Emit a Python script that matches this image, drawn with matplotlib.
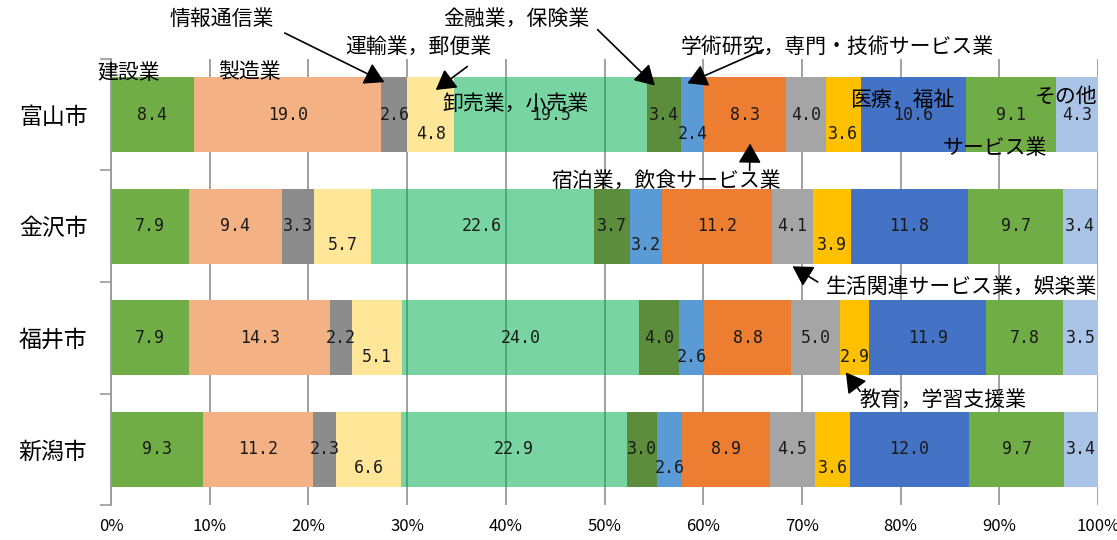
import numpy as np
import matplotlib
matplotlib.use("Agg")
import matplotlib.pyplot as plt

plt.rcParams["font.family"] = ["Noto Sans CJK JP", "DejaVu Sans"]

# 産業別 従業者構成比（％）
cities = ["富山市", "金沢市", "福井市", "新潟市"]
industries = [
    "建設業", "製造業", "情報通信業", "運輸業，郵便業", "卸売業，小売業",
    "金融業，保険業", "学術研究，専門・技術サービス業", "宿泊業，飲食サービス業",
    "生活関連サービス業，娯楽業", "教育，学習支援業", "医療，福祉", "サービス業", "その他",
]
toyama = [8.4, 19.0, 2.6, 4.8, 19.5, 3.4, 2.4, 8.3, 4.0, 3.6, 10.6, 9.1, 4.3]
kanazawa = [7.9, 9.4, 3.3, 5.7, 22.6, 3.7, 3.2, 11.2, 4.1, 3.9, 11.8, 9.7, 3.4]
fukui = [7.9, 14.3, 2.2, 5.1, 24.0, 4.0, 2.6, 8.8, 5.0, 2.9, 11.9, 7.8, 3.5]
niigata = [9.3, 11.2, 2.3, 6.6, 22.9, 3.0, 2.6, 8.9, 4.5, 3.6, 12.0, 9.7, 3.4]
x_ticks = [0, 10, 20, 30, 40, 50, 60, 70, 80, 90, 100]

colors = ["#70AD47", "#F4B183", "#8C8C8C", "#FFE699", "#00B050", "#5B8D3C",
          "#5B9BD5", "#ED7D31", "#A5A5A5", "#FFC000", "#4472C4", "#70AD47", "#AAC4E8"]
alphas = [1, 1, 1, 1, 0.53, 1, 1, 1, 1, 1, 1, 1, 1]
# value labels of these series sit a little below the bar centre
low_label = {3, 6, 9}

data = np.array([toyama, kanazawa, fukui, niigata])
left = np.zeros(len(cities))
ypos = np.arange(len(cities))

fig = plt.figure(figsize=(11.17, 5.40), dpi=100)
ax = fig.add_axes([0.0994, 0.0643, 0.8836, 0.827])

for j, name in enumerate(industries):
    vals = data[:, j]
    ax.barh(ypos, vals, left=left, height=0.67, color=colors[j], alpha=alphas[j],
            zorder=2, label=name)
    for i, v in enumerate(vals):
        dy = 0.17 if j in low_label else 0.0
        ax.text(left[i] + v / 2, ypos[i] + dy, f"{v:.1f}", ha="center", va="center",
                fontsize=12, family="DejaVu Sans Mono", color="#1a1a1a", zorder=4)
    left += vals

ax.set_xlim(0, 100)
ax.set_ylim(3.5, -0.5)
ax.set_xticks(x_ticks)
ax.set_xticklabels([f"{t}%" for t in x_ticks], fontsize=12)
ax.tick_params(axis="x", length=0, pad=9)
ax.set_yticks(ypos)
ax.set_yticklabels(cities, fontsize=16.5)
ax.tick_params(axis="y", length=0, pad=17)
ax.set_yticks([-0.5, 0.5, 1.5, 2.5, 3.5], minor=True)
ax.tick_params(axis="y", which="minor", length=8, color="#9a9a9a", width=1.2)
ax.grid(axis="x", color="#9a9a9a", linewidth=1.3, zorder=0)
ax.set_axisbelow(True)
for s in ["top", "right", "bottom"]:
    ax.spines[s].set_visible(False)
ax.spines["left"].set_color("#9a9a9a")
ax.spines["left"].set_linewidth(1.3)

# category names
cat_font = dict(fontsize=15, color="black", va="center", zorder=5)
ax.text(-1.4, -0.37, "建設業", ha="left", clip_on=False, **cat_font)
ax.text(14.0, -0.38, "製造業", ha="center", **cat_font)
ax.text(11.2, -0.86, "情報通信業", ha="center", clip_on=False, **cat_font)
ax.text(31.1, -0.61, "運輸業，郵便業", ha="center", **cat_font)
ax.text(41.0, -0.10, "卸売業，小売業", ha="center", **cat_font)
ax.text(41.1, -0.86, "金融業，保険業", ha="center", clip_on=False, **cat_font)
ax.text(73.6, -0.61, "学術研究，専門・技術サービス業", ha="center", **cat_font)
ax.text(56.3, 0.59, "宿泊業，飲食サービス業", ha="center", **cat_font)
ax.text(86.2, 1.55, "生活関連サービス業，娯楽業", ha="center", clip_on=False, **cat_font)
ax.text(84.3, 2.56, "教育，学習支援業", ha="center", **cat_font)
ax.text(80.2, -0.13, "医療，福祉", ha="center", **cat_font)
ax.text(89.5, 0.30, "サービス業", ha="center", **cat_font)
ax.text(96.8, -0.16, "その他", ha="center", clip_on=False, **cat_font)

# arrows from names to their segments
cum = np.cumsum(data, axis=1) - data / 2
arrow = dict(arrowstyle="-|>,head_length=0.6,head_width=0.35", mutation_scale=20,
             color="black", lw=1.2, shrinkA=0, shrinkB=0)
pointers = [
    (2, 0, -1.0, -0.29, (17.6, -0.73)),
    (3, 0, 0.5, -0.22, (36.1, -0.43)),
    (5, 0, -0.9, -0.26, (49.3, -0.76)),
    (6, 0, -0.5, -0.28, (66.1, -0.58)),
    (7, 0, 0.5, 0.26, (64.7, 0.50)),
    (8, 1, 0.0, 1.36, (71.6, 1.50)),
    (9, 2, -0.9, 2.31, (75.9, 2.48)),
]
for j, i, dx, ty, tail in pointers:
    ax.annotate("", xy=(cum[i, j] + dx, ty), xytext=tail, arrowprops=arrow,
                annotation_clip=False, zorder=6)

fig.savefig("out.png", dpi=100)
